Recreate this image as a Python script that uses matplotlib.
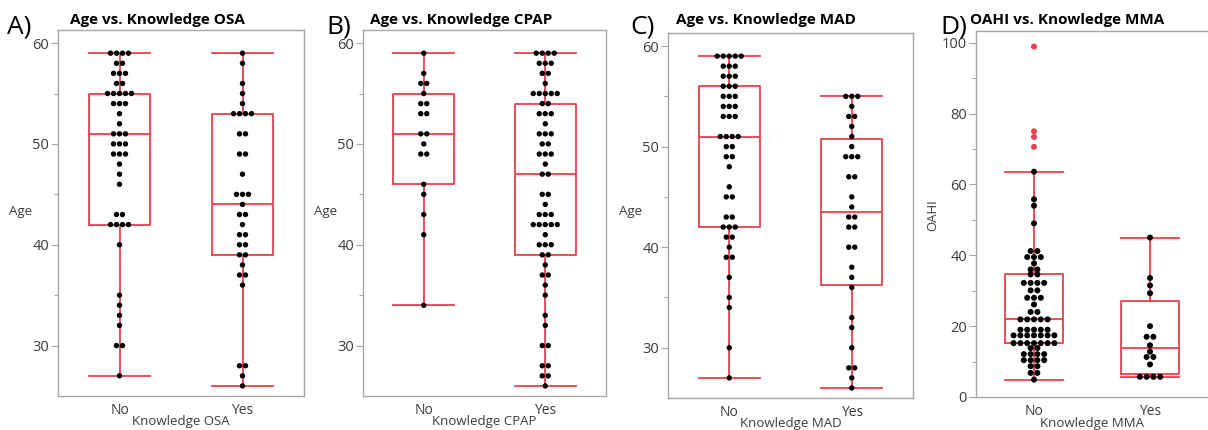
import numpy as np
import matplotlib
matplotlib.use("Agg")
import matplotlib.pyplot as plt

# ---- data: (value, number of subjects at that value) ----
osa_no_vals = [59, 58, 57, 56, 55, 54, 53, 52, 51, 50, 49, 48, 47, 46, 43, 42, 40, 35, 34, 33, 32, 30, 27]
osa_no_cnts = [4, 2, 3, 2, 5, 3, 1, 1, 3, 3, 3, 1, 1, 1, 2, 4, 1, 1, 1, 1, 1, 2, 1]
osa_yes_vals = [59, 58, 56, 55, 54, 53, 51, 49, 47, 45, 44, 43, 42, 41, 40, 39, 38, 37, 36, 28, 27, 26]
osa_yes_cnts = [1, 1, 1, 1, 1, 4, 2, 2, 1, 3, 1, 2, 1, 2, 2, 2, 1, 2, 1, 2, 1, 1]

cpap_no_vals = [59, 57, 56, 55, 54, 53, 51, 50, 49, 46, 45, 43, 41, 34]
cpap_no_cnts = [1, 1, 2, 1, 2, 2, 2, 1, 2, 1, 1, 1, 1, 1]
cpap_yes_vals = [59, 58, 57, 56, 55, 54, 53, 52, 51, 50, 49, 48, 47, 45, 44, 43, 42, 41,
                 40, 39, 38, 37, 36, 35, 33, 32, 30, 28, 27, 26]
cpap_yes_cnts = [4, 3, 2, 1, 5, 2, 3, 1, 3, 2, 3, 1, 2, 2, 1, 3, 5, 1,
                 3, 2, 1, 2, 1, 1, 1, 1, 2, 2, 2, 1]

mad_no_vals = [59, 58, 57, 56, 55, 54, 53, 51, 50, 49, 48, 46, 45, 43, 42, 41, 40, 39, 37, 35, 34, 30, 27]
mad_no_cnts = [5, 3, 3, 3, 3, 3, 3, 4, 2, 2, 1, 1, 2, 2, 3, 2, 1, 2, 1, 1, 1, 1, 1]
mad_yes_vals = [55, 54, 53, 52, 51, 50, 49, 47, 45, 44, 43, 42, 40, 38, 37, 36, 33, 32, 30, 28, 27, 26]
mad_yes_cnts = [3, 1, 2, 1, 1, 1, 3, 2, 1, 1, 2, 2, 2, 1, 1, 1, 1, 1, 1, 2, 1, 1]

mma_no_vals = [98.9, 75.0, 73.4, 70.6, 63.6, 55.8, 54.0, 49.0, 41.2, 39.5, 37.7, 36.0, 34.6,
               32.2, 30.1, 28.0, 26.1, 24.0, 21.9, 19.0, 17.4, 15.2, 13.8, 12.1, 10.4, 8.7, 6.8, 4.9]
mma_no_cnts = [1, 1, 1, 1, 1, 1, 1, 1, 2, 3, 1, 2, 2,
               4, 2, 3, 1, 2, 5, 5, 7, 7, 2, 4, 4, 2, 2, 1]
mma_yes_vals = [45.0, 33.6, 31.5, 29.3, 20.0, 17.0, 14.6, 12.8, 11.3, 9.2, 5.7]
mma_yes_cnts = [1, 1, 1, 1, 1, 2, 1, 1, 2, 1, 4]

categories = ["No", "Yes"]

RED = "#e8404e"
FRAME = "#a6a6a6"
TXT = "#3c3c3c"
FONT = "Open Sans"

W, H = 1208, 430
fig = plt.figure(figsize=(W / 100, H / 100), dpi=100)


def box_stats(vals, cnts):
    v = np.sort(np.repeat(vals, cnts).astype(float))
    q1, med, q3 = np.percentile(v, [25, 50, 75], method="weibull")
    iqr = q3 - q1
    lo = v[v >= q1 - 1.5 * iqr].min()
    hi = v[v <= q3 + 1.5 * iqr].max()
    return dict(med=med, q1=q1, q3=q3, whislo=lo, whishi=hi, fliers=[])


panels = [
    dict(letter="A)", title="Age vs. Knowledge OSA", xlabel="Knowledge OSA", ylabel="Age",
         groups=[(osa_no_vals, osa_no_cnts), (osa_yes_vals, osa_yes_cnts)],
         rect=(58, 30, 304, 396), ylim=(25, 61.3), major=[30, 40, 50, 60], minor=[35, 45, 55],
         title_x=70, letter_x=7, dot=5.4, gap=6.0, rotate=False),
    dict(letter="B)", title="Age vs. Knowledge CPAP", xlabel="Knowledge CPAP", ylabel="Age",
         groups=[(cpap_no_vals, cpap_no_cnts), (cpap_yes_vals, cpap_yes_cnts)],
         rect=(363, 30, 606, 396), ylim=(25, 61.3), major=[30, 40, 50, 60], minor=[35, 45, 55],
         title_x=370, letter_x=326, dot=5.4, gap=6.0, rotate=False),
    dict(letter="C)", title="Age vs. Knowledge MAD", xlabel="Knowledge MAD", ylabel="Age",
         groups=[(mad_no_vals, mad_no_cnts), (mad_yes_vals, mad_yes_cnts)],
         rect=(668, 33, 913, 398), ylim=(25, 61.3), major=[30, 40, 50, 60], minor=[35, 45, 55],
         title_x=676, letter_x=630, dot=5.4, gap=6.0, rotate=False),
    dict(letter="D)", title="OAHI vs. Knowledge MMA", xlabel="Knowledge MMA", ylabel="OAHI",
         groups=[(mma_no_vals, mma_no_cnts), (mma_yes_vals, mma_yes_cnts)],
         rect=(976, 31, 1208, 397), ylim=(0, 103.3), major=[0, 20, 40, 60, 80, 100],
         minor=[10, 30, 50, 70, 90],
         title_x=970, letter_x=940, dot=6.0, gap=6.8, rotate=True),
]

for p in panels:
    l, t, r, b = p["rect"]
    ax = fig.add_axes([l / W, 1 - b / H, (r - l) / W, (b - t) / H])
    ax.set_xlim(-0.5, 1.5)
    ax.set_ylim(*p["ylim"])
    px_per_unit = (r - l) / 2.0
    gap = p["gap"] / px_per_unit

    stats = [box_stats(v, c) for v, c in p["groups"]]
    line = dict(color=RED, lw=1.3)
    ax.bxp(stats, positions=[0, 1], widths=0.5, capwidths=0.5, showfliers=False,
           boxprops=line, whiskerprops=line, capprops=line, medianprops=line,
           manage_ticks=False, zorder=2)

    for gi, ((vals, cnts), st) in enumerate(zip(p["groups"], stats)):
        xs, ys, cs = [], [], []
        for v, n in zip(vals, cnts):
            offs = (np.arange(n) - (n - 1) / 2.0) * gap
            for o in offs:
                xs.append(gi + o)
                ys.append(v)
                cs.append(RED if (v > st["whishi"] or v < st["whislo"]) else "black")
        ax.scatter(xs, ys, s=(p["dot"] * 0.72) ** 2, c=cs, linewidths=0, zorder=3)

    ax.set_xticks([0, 1])
    ax.set_xticklabels(categories)
    ax.set_yticks(p["major"])
    ax.set_yticks(p["minor"], minor=True)
    ax.tick_params(axis="x", length=0, pad=5, labelsize=10, labelcolor=TXT)
    ax.tick_params(axis="y", which="major", length=5, width=0.8, color=FRAME, pad=1.5,
                   labelsize=10.5, labelcolor=TXT)
    ax.tick_params(axis="y", which="minor", length=3, width=0.8, color=FRAME)
    for lab in ax.get_xticklabels() + ax.get_yticklabels():
        lab.set_fontfamily(FONT)
    for s in ax.spines.values():
        s.set_color(FRAME)
        s.set_linewidth(1.0)
    if p["rect"][2] >= W:
        ax.spines["right"].set_visible(False)

    ax.set_xlabel(p["xlabel"], fontsize=9.5, color=TXT, family=FONT)
    ax.xaxis.set_label_coords(0.5, -26.0 / (b - t))
    ax.xaxis.label.set_va("center")
    if p["rotate"]:
        ax.set_ylabel(p["ylabel"], fontsize=9.5, color=TXT, family=FONT, rotation=90)
        ax.yaxis.set_label_coords(-(l - 933) / (r - l), (b - 215) / (b - t))
    else:
        ax.set_ylabel(p["ylabel"], fontsize=9.5, color=TXT, family=FONT, rotation=0)
        ax.yaxis.set_label_coords(-37.0 / (r - l), (b - 212) / (b - t))
    ax.yaxis.label.set_ha("center")
    ax.yaxis.label.set_va("center")

    fig.text(p["title_x"] / W, 1 - 24 / H, p["title"], ha="left", va="baseline",
             fontsize=11, fontweight="bold", family=FONT, color="black")
    fig.text(p["letter_x"] / W, 1 - 33 / H, p["letter"], ha="left", va="baseline",
             fontsize=19, family=FONT, color="black")

fig.savefig("out.png", dpi=100)
